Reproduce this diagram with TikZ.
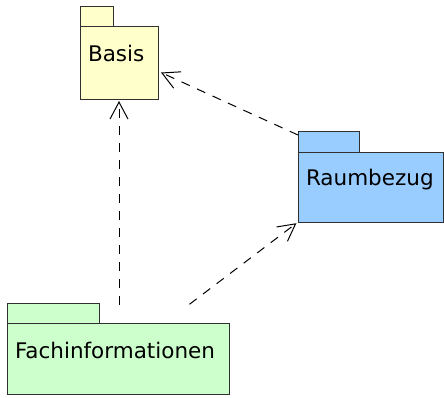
\documentclass[tikz,border=0pt]{standalone}
\usepackage{fontspec}
\setmainfont{DejaVu Sans}
\usepackage{tikz}
\usetikzlibrary{positioning,arrows.meta}
\definecolor{basisbg}{HTML}{FFFFCC}
\definecolor{raumbg}{HTML}{99CCFF}
\definecolor{fachbg}{HTML}{CCFFCC}
\definecolor{pkgline}{HTML}{303030}
\tikzset{
  pkg/.style={draw=pkgline, line width=1pt, rectangle, outer sep=0pt, inner ysep=0pt, inner xsep=8pt, align=left, font=\fontsize{21.5}{24}\selectfont},
  pkgtab/.style={draw=pkgline, line width=1pt, rectangle, outer sep=0pt, inner sep=0pt},
  dep/.style={-{Straight Barb[length=17pt,width=18pt]}, line width=1pt, dash pattern=on 9pt off 8pt}
}
\begin{document}
\begin{tikzpicture}[x=1pt,y=-1pt]
  \useasboundingbox (0,0) rectangle (444,397);
  % packages
  \node[pkg, fill=basisbg, anchor=north west, text width=62pt, text height=35pt, text depth=38pt] (basis) at (80,26) {Basis};
  \node[pkgtab, fill=basisbg, minimum width=33pt, minimum height=20pt, above right=0pt and 0pt of basis.north west] (basistab) {};
  \node[pkg, fill=raumbg, anchor=north west, text width=129pt, text height=33pt, text depth=37pt] (raum) at (298,152) {Raumbezug};
  \node[pkgtab, fill=raumbg, minimum width=61pt, minimum height=21pt, above right=0pt and 0pt of raum.north west] (raumtab) {};
  \node[pkg, fill=fachbg, anchor=north west, text width=206pt, text height=35pt, text depth=36pt] (fach) at (7,323) {Fachinformationen};
  \node[pkgtab, fill=fachbg, minimum width=92pt, minimum height=20pt, above right=0pt and 0pt of fach.north west] (fachtab) {};
  % dependencies
  \draw[dep, shorten <=18pt, shorten >=2pt] (fach.north -| basis.south) -- (basis.south);
  \draw[dep, shorten <=31pt, shorten >=2pt] (fach) -- (raum.south west);
  \draw[dep] ([yshift=-4pt]raumtab.north west) -- ([xshift=3pt,yshift=-10pt]basis.east);
\end{tikzpicture}
\end{document}
